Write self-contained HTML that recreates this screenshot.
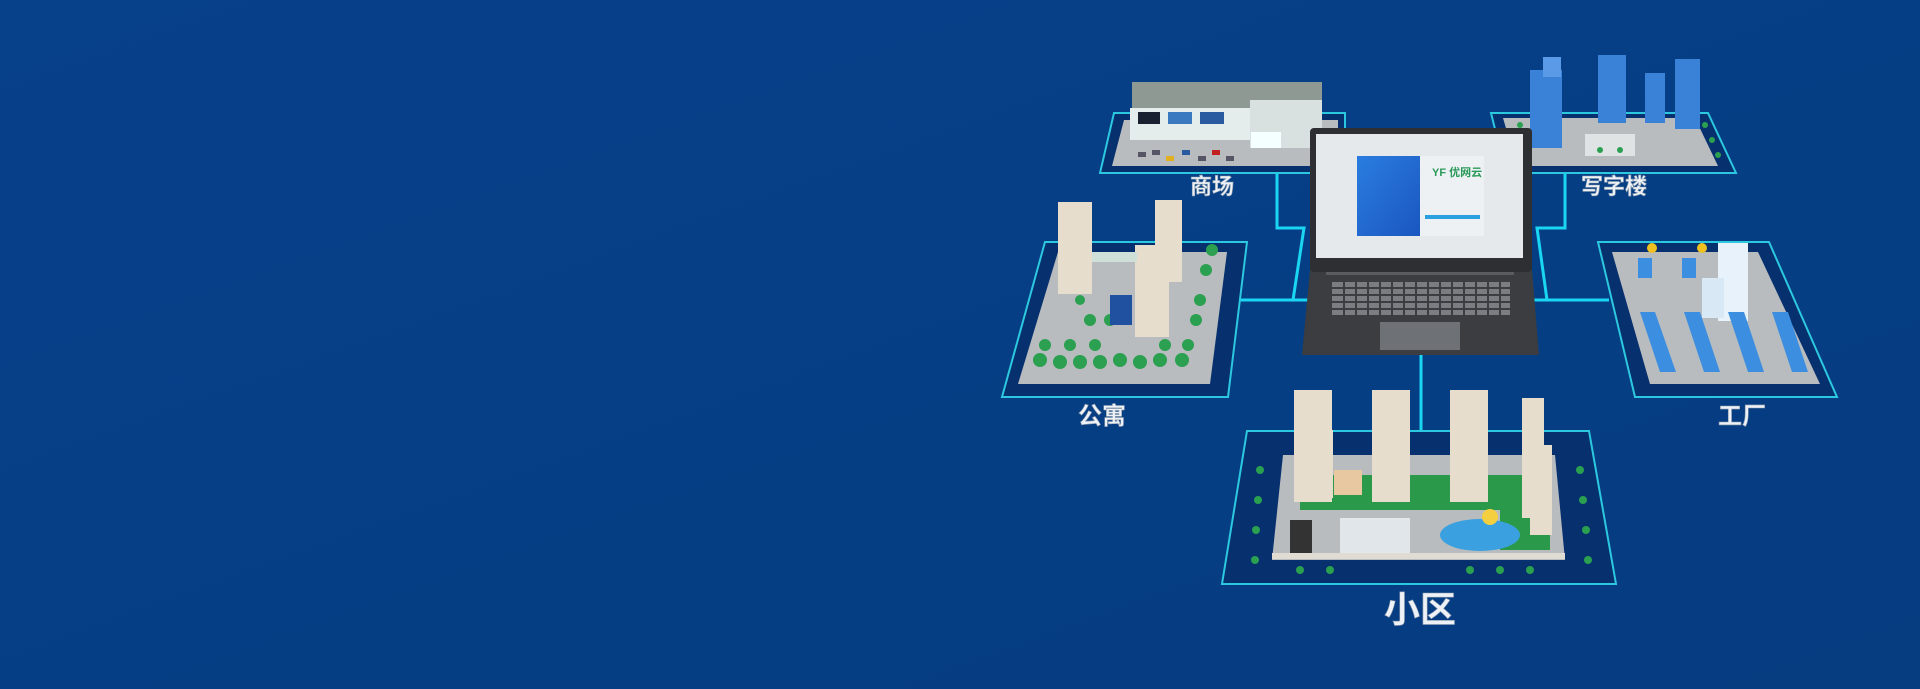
<!DOCTYPE html>
<html><head><meta charset="utf-8"><style>
html,body{margin:0;padding:0;background:#073f86;width:1920px;height:689px;overflow:hidden}
svg{display:block}
text{font-family:"Liberation Sans","Noto Sans CJK SC",sans-serif;font-weight:bold}
</style></head><body>
<svg width="1920" height="689" viewBox="0 0 1920 689" xmlns="http://www.w3.org/2000/svg">
<defs>
<linearGradient id="bg" x1="0" y1="0" x2="1" y2="1"><stop offset="0" stop-color="#07418a"/><stop offset="1" stop-color="#063c80"/></linearGradient>
<linearGradient id="scr" x1="0" y1="0" x2="1" y2="1"><stop offset="0" stop-color="#2a7de0"/><stop offset="1" stop-color="#1a56c0"/></linearGradient>
</defs>
<rect width="1920" height="689" fill="url(#bg)"/>

<g stroke="#1ad6f2" stroke-width="3" fill="none">
<polyline points="1277,173 1277,228 1304,228 1293,300"/>
<line x1="1232" y1="300" x2="1312" y2="300"/>
<polyline points="1565,173 1565,228 1537,228 1547,300"/>
<line x1="1530" y1="300" x2="1609" y2="300"/>
<line x1="1421" y1="355" x2="1421" y2="433"/>
</g>

<g stroke="#2cc8e0" stroke-width="2" fill="#07306e">
<polygon points="1114,113 1345,113 1345,173 1100,173"/>
<polygon points="1491,113 1708,113 1736,173 1506,173"/>
<polygon points="1045,242 1247,242 1228,397 1002,397"/>
<polygon points="1598,242 1769,242 1837,397 1635,397"/>
<polygon points="1247,431 1589,431 1616,584 1222,584"/>
</g>
<g fill="#b9bcbf">
<polygon points="1124,120 1338,120 1338,166 1112,166"/>
<polygon points="1503,118 1695,118 1718,166 1517,166"/>
<polygon points="1058,252 1227,252 1210,384 1018,384"/>
<polygon points="1612,252 1758,252 1820,384 1650,384"/>
<polygon points="1283,455 1555,455 1565,560 1272,560"/>
</g>

<rect x="1132" y="82" width="190" height="26" fill="#8f9994"/>
<rect x="1130" y="108" width="120" height="32" fill="#e4ecec"/>
<rect x="1250" y="100" width="72" height="48" fill="#d8e0e0"/>
<rect x="1251" y="132" width="30" height="16" fill="#f4ffff"/>
<rect x="1138" y="112" width="22" height="12" fill="#1a2030"/>
<rect x="1168" y="112" width="24" height="12" fill="#3a78c0"/>
<rect x="1200" y="112" width="24" height="12" fill="#2a5aa0"/>
<g fill="#556"><rect x="1138" y="152" width="8" height="5"/><rect x="1152" y="150" width="8" height="5"/><rect x="1166" y="156" width="8" height="5" fill="#e0b020"/><rect x="1182" y="150" width="8" height="5" fill="#2a5aa0"/><rect x="1198" y="156" width="8" height="5"/><rect x="1212" y="150" width="8" height="5" fill="#c02020"/><rect x="1226" y="156" width="8" height="5"/></g>

<g fill="#3a82d8">
<rect x="1530" y="70" width="32" height="78"/><rect x="1543" y="57" width="18" height="20" fill="#5a9ae6"/>
<rect x="1598" y="55" width="28" height="68"/>
<rect x="1645" y="73" width="20" height="50"/>
<rect x="1675" y="59" width="25" height="70"/>
</g>
<rect x="1585" y="134" width="50" height="22" fill="#e8ecee" opacity=".8"/>
<g fill="#2aa050"><circle cx="1520" cy="125" r="3"/><circle cx="1705" cy="125" r="3"/><circle cx="1712" cy="140" r="3"/><circle cx="1718" cy="155" r="3"/><circle cx="1620" cy="150" r="3"/><circle cx="1600" cy="150" r="3"/></g>

<g fill="#e6ddcc">
<rect x="1058" y="202" width="34" height="92"/>
<rect x="1155" y="200" width="27" height="82"/>
<rect x="1135" y="245" width="34" height="92"/>
</g>
<rect x="1092" y="252" width="45" height="10" fill="#cfe0d8"/>
<g fill="#2aa050">
<circle cx="1040" cy="360" r="7"/><circle cx="1060" cy="362" r="7"/><circle cx="1080" cy="362" r="7"/><circle cx="1100" cy="362" r="7"/><circle cx="1120" cy="360" r="7"/><circle cx="1140" cy="362" r="7"/><circle cx="1160" cy="360" r="7"/><circle cx="1182" cy="360" r="7"/>
<circle cx="1045" cy="345" r="6"/><circle cx="1070" cy="345" r="6"/><circle cx="1095" cy="345" r="6"/><circle cx="1165" cy="345" r="6"/><circle cx="1188" cy="345" r="6"/>
<circle cx="1196" cy="320" r="6"/><circle cx="1200" cy="300" r="6"/><circle cx="1206" cy="270" r="6"/><circle cx="1212" cy="250" r="6"/><circle cx="1090" cy="320" r="6"/><circle cx="1110" cy="320" r="6"/><circle cx="1080" cy="300" r="5"/>
</g>
<rect x="1110" y="295" width="22" height="30" fill="#2050a0"/>

<rect x="1718" y="243" width="30" height="78" fill="#e8f2fa"/>
<rect x="1702" y="278" width="22" height="40" fill="#d8e8f4"/>
<g fill="#3c8ee0">
<polygon points="1640,312 1655,312 1676,372 1660,372"/>
<polygon points="1684,312 1700,312 1720,372 1704,372"/>
<polygon points="1728,312 1744,312 1764,372 1748,372"/>
<polygon points="1772,312 1788,312 1808,372 1792,372"/>
<rect x="1638" y="258" width="14" height="20"/><rect x="1682" y="258" width="14" height="20"/>
</g>
<circle cx="1652" cy="248" r="5" fill="#f0c020"/><circle cx="1702" cy="248" r="5" fill="#f0c020"/>

<g fill="#2a9a4a"><rect x="1300" y="475" width="240" height="35"/><rect x="1500" y="500" width="50" height="50"/></g>
<rect x="1340" y="518" width="70" height="40" fill="#e0e6ea"/>
<ellipse cx="1480" cy="535" rx="40" ry="16" fill="#3aa0e0"/>
<circle cx="1490" cy="517" r="8" fill="#f4d040"/>
<rect x="1290" y="520" width="22" height="35" fill="#333"/>
<g fill="#e6ddcc">
<rect x="1294" y="390" width="38" height="112"/><rect x="1372" y="390" width="38" height="112"/><rect x="1450" y="390" width="38" height="112"/>
<rect x="1297" y="430" width="36" height="68"/><rect x="1372" y="430" width="36" height="68"/><rect x="1450" y="430" width="36" height="68"/>
<rect x="1522" y="398" width="22" height="120"/><rect x="1530" y="445" width="22" height="90"/>
</g>
<rect x="1334" y="470" width="28" height="25" fill="#e8c8a0"/>
<rect x="1272" y="553" width="293" height="6" fill="#e0dcd4"/>
<g fill="#2aa050">
<circle cx="1260" cy="470" r="4"/><circle cx="1258" cy="500" r="4"/><circle cx="1256" cy="530" r="4"/><circle cx="1255" cy="560" r="4"/>
<circle cx="1580" cy="470" r="4"/><circle cx="1583" cy="500" r="4"/><circle cx="1586" cy="530" r="4"/><circle cx="1588" cy="560" r="4"/>
<circle cx="1300" cy="570" r="4"/><circle cx="1330" cy="570" r="4"/><circle cx="1470" cy="570" r="4"/><circle cx="1500" cy="570" r="4"/><circle cx="1530" cy="570" r="4"/>
</g>

<polygon points="1310,270 1532,270 1539,355 1302,355" fill="#3b3d41"/>
<rect x="1310" y="128" width="222" height="144" rx="4" fill="#2d2f33"/>
<rect x="1316" y="134" width="207" height="124" fill="#e6e9ec"/>
<rect x="1357" y="156" width="63" height="80" fill="url(#scr)"/>
<rect x="1420" y="156" width="64" height="80" fill="#eef1f4"/>
<text x="1432" y="176" font-size="11" fill="#2a9a5a">YF 优网云</text>
<rect x="1425" y="215" width="55" height="4" fill="#2ba0e0"/>
<rect x="1326" y="272" width="188" height="3" fill="#5a5c60"/>
<g fill="#7a7d82">
<rect x="1332" y="282" width="178" height="5"/><rect x="1332" y="289" width="178" height="5"/><rect x="1332" y="296" width="178" height="5"/><rect x="1332" y="303" width="178" height="5"/><rect x="1332" y="310" width="178" height="5"/>
</g>
<g stroke="#3b3d41" stroke-width="2">
<line x1="1344" y1="282" x2="1344" y2="316"/><line x1="1356" y1="282" x2="1356" y2="316"/><line x1="1368" y1="282" x2="1368" y2="316"/><line x1="1380" y1="282" x2="1380" y2="316"/><line x1="1392" y1="282" x2="1392" y2="316"/><line x1="1404" y1="282" x2="1404" y2="316"/><line x1="1416" y1="282" x2="1416" y2="316"/><line x1="1428" y1="282" x2="1428" y2="316"/><line x1="1440" y1="282" x2="1440" y2="316"/><line x1="1452" y1="282" x2="1452" y2="316"/><line x1="1464" y1="282" x2="1464" y2="316"/><line x1="1476" y1="282" x2="1476" y2="316"/><line x1="1488" y1="282" x2="1488" y2="316"/><line x1="1500" y1="282" x2="1500" y2="316"/>
</g>
<rect x="1380" y="322" width="80" height="28" fill="#6e7176"/>

<g fill="#eef2f6" stroke="#8a9aae" stroke-width="0.6" text-anchor="middle">
<text x="1212" y="194" font-size="22">商场</text>
<text x="1614" y="194" font-size="22">写字楼</text>
<text x="1102" y="424" font-size="24">公寓</text>
<text x="1742" y="424" font-size="24">工厂</text>
<text x="1420" y="622" font-size="36">小区</text>
</g>
</svg>
</body></html>
